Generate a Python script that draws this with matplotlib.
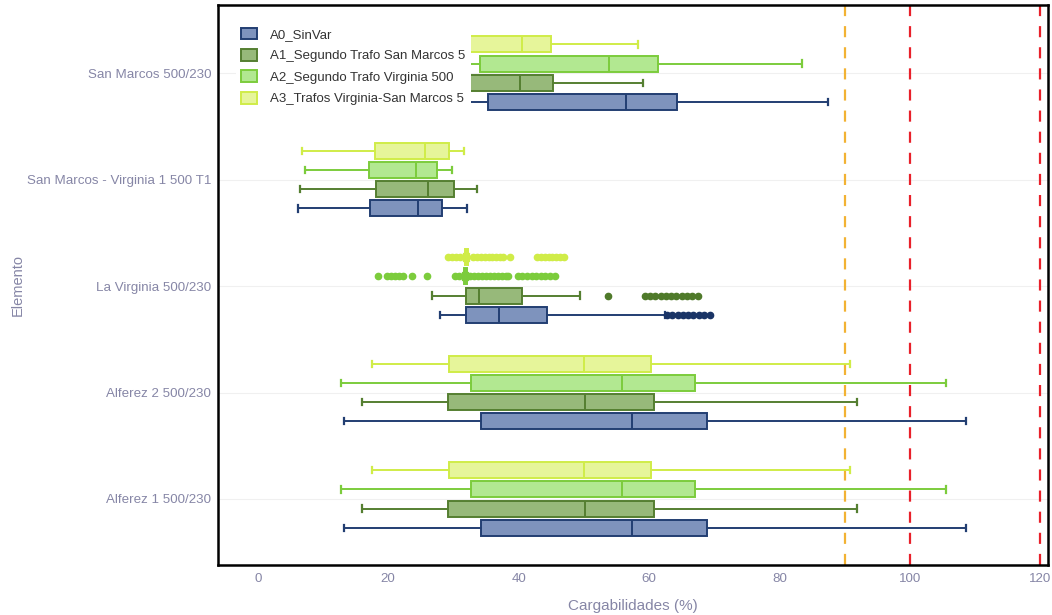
import matplotlib
matplotlib.use("Agg")
import matplotlib.pyplot as plt
from matplotlib.patches import Patch

plt.rcParams['font.family'] = ['Liberation Sans', 'DejaVu Sans']

# ---------------- data ----------------
categories = ["Alferez 1 500/230", "Alferez 2 500/230", "La Virginia 500/230",
              "San Marcos - Virginia 1 500 T1", "San Marcos 500/230"]
series = ["A0_SinVar", "A1_Segundo Trafo San Marcos 5",
          "A2_Segundo Trafo Virginia 500", "A3_Trafos Virginia-San Marcos 5"]

# per series: values per category (order as categories)
a0_whislo = [13.2, 13.2, 27.9, 6.1, 28.0]
a0_q1 = [34.2, 34.2, 31.9, 17.2, 35.3]
a0_med = [57.4, 57.4, 37.0, 24.6, 56.5]
a0_q3 = [68.9, 68.9, 44.3, 28.2, 64.3]
a0_whishi = [108.6, 108.6, 62.5, 32.1, 87.5]

a1_whislo = [16.0, 16.0, 26.7, 6.4, 28.0]
a1_q1 = [29.2, 29.2, 31.9, 18.1, 32.4]
a1_med = [50.2, 50.2, 33.9, 26.1, 40.2]
a1_q3 = [60.8, 60.8, 40.5, 30.1, 45.3]
a1_whishi = [91.9, 91.9, 49.4, 33.6, 59.1]

a2_whislo = [12.7, 12.7, 31.5, 7.2, 28.0]
a2_q1 = [32.7, 32.7, 31.7, 17.0, 34.1]
a2_med = [55.9, 55.9, 31.9, 24.2, 53.9]
a2_q3 = [67.1, 67.1, 32.1, 27.5, 61.4]
a2_whishi = [105.6, 105.6, 32.3, 29.8, 83.5]

a3_whislo = [17.5, 17.5, 31.6, 6.8, 28.0]
a3_q1 = [29.3, 29.3, 31.8, 18.0, 32.4]
a3_med = [50.0, 50.0, 32.0, 25.6, 40.5]
a3_q3 = [60.3, 60.3, 32.2, 29.3, 45.0]
a3_whishi = [90.8, 90.8, 32.4, 31.6, 58.3]

# outliers (only La Virginia 500/230 has them)
a0_fliers_lv = [62.8, 63.6, 64.4, 65.2, 66.0, 66.8, 67.6, 68.4, 69.4]
a1_fliers_lv = [53.7, 59.4, 60.2, 61.0, 61.8, 62.6, 63.4, 64.2, 65.0, 65.8, 66.6, 67.5]
a2_fliers_lv = [18.4, 19.8, 20.4, 21.0, 21.6, 22.3, 23.6, 25.9, 30.2, 30.8,
                32.6, 33.2, 33.8, 34.4, 35.0, 35.6, 36.2, 36.8, 37.4, 38.0, 38.4,
                39.9, 40.6, 41.3, 42.0, 42.7, 43.4, 44.1, 44.8, 45.6]
a3_fliers_lv = [29.2, 29.8, 30.4, 31.0, 33.0, 33.6, 34.2, 34.8, 35.4, 36.0,
                36.6, 37.2, 37.6, 38.7, 42.8, 43.4, 44.0, 44.6, 45.2, 45.8, 46.4, 47.0]

limit_lines = [90, 100, 120]
limit_colors = ["#f2b233", "#e8202a", "#e8202a"]
xticks = [0, 20, 40, 60, 80, 100, 120]

# ---------------- styling ----------------
fills = ["#7e93bd", "#97b97a", "#b2e891", "#e6f59a"]
edges = ["#223e72", "#557f31", "#7ccc3c", "#d0ec48"]
flier_colors = ["#1a3466", "#4f7a2a", "#7ccc3c", "#d0ec48"]
label_color = "#8686a6"

all_stats = [
    (a0_whislo, a0_q1, a0_med, a0_q3, a0_whishi, a0_fliers_lv),
    (a1_whislo, a1_q1, a1_med, a1_q3, a1_whishi, a1_fliers_lv),
    (a2_whislo, a2_q1, a2_med, a2_q3, a2_whishi, a2_fliers_lv),
    (a3_whislo, a3_q1, a3_med, a3_q3, a3_whishi, a3_fliers_lv),
]

fig = plt.figure(figsize=(10.52, 6.15), dpi=100)
ax = fig.add_axes([218 / 1052, 50 / 615, 830 / 1052, 560 / 615])

offsets = [-0.27, -0.09, 0.09, 0.27]
box_w = 0.15
for s, (wl, q1, md, q3, wh, fl) in enumerate(all_stats):
    stats = []
    for i in range(len(categories)):
        stats.append(dict(whislo=wl[i], q1=q1[i], med=md[i], q3=q3[i], whishi=wh[i],
                          fliers=fl if i == 2 else []))
    pos = [i + offsets[s] for i in range(len(categories))]
    ax.bxp(stats, positions=pos, widths=box_w, orientation='horizontal',
           patch_artist=True, showfliers=True, capwidths=0.06,
           boxprops=dict(facecolor=fills[s], edgecolor=edges[s], linewidth=1.4),
           medianprops=dict(color=edges[s], linewidth=1.4),
           whiskerprops=dict(color=edges[s], linewidth=1.4),
           capprops=dict(color=edges[s], linewidth=1.6),
           flierprops=dict(marker='o', markersize=4.5, markerfacecolor=flier_colors[s],
                           markeredgecolor=flier_colors[s], linestyle='none'))

for v, c in zip(limit_lines, limit_colors):
    ax.axvline(v, color=c, linewidth=1.6, linestyle=(0, (5, 4.5)), zorder=1)

ax.set_xlim(-6.1, 121.2)
ax.set_ylim(-0.62, 4.64)
ax.set_xticks(xticks)
ax.set_xticklabels([str(t) for t in xticks])
ax.set_yticks(range(len(categories)))
ax.set_yticklabels(categories)
ax.tick_params(axis='both', length=0, labelsize=9.6, labelcolor=label_color)
ax.tick_params(axis='x', pad=6)
ax.tick_params(axis='y', pad=5)
ax.grid(axis='y', color='#f0f0f0', linewidth=0.8)
ax.set_axisbelow(True)
for sp in ax.spines.values():
    sp.set_color('black')
    sp.set_linewidth(1.8)

ax.set_xlabel("Cargabilidades (%)", fontsize=11, color=label_color, labelpad=10)
ax.set_ylabel("Elemento", fontsize=10.5, color=label_color)
ax.yaxis.set_label_coords(-0.233, 0.5)

handles = [Patch(facecolor=fills[s], edgecolor=edges[s], linewidth=1.4) for s in range(4)]
leg = ax.legend(handles, series, loc='upper left', bbox_to_anchor=(0.017, 0.976),
                frameon=True, framealpha=1, edgecolor='none', facecolor='white',
                fontsize=9.5, handlelength=1.15, handleheight=1.0, handletextpad=1.05,
                labelspacing=0.6, borderpad=0.4, borderaxespad=0.3)
for t in leg.get_texts():
    t.set_color('#333333')
leg.set_zorder(10)

fig.savefig("out.png", dpi=100)
